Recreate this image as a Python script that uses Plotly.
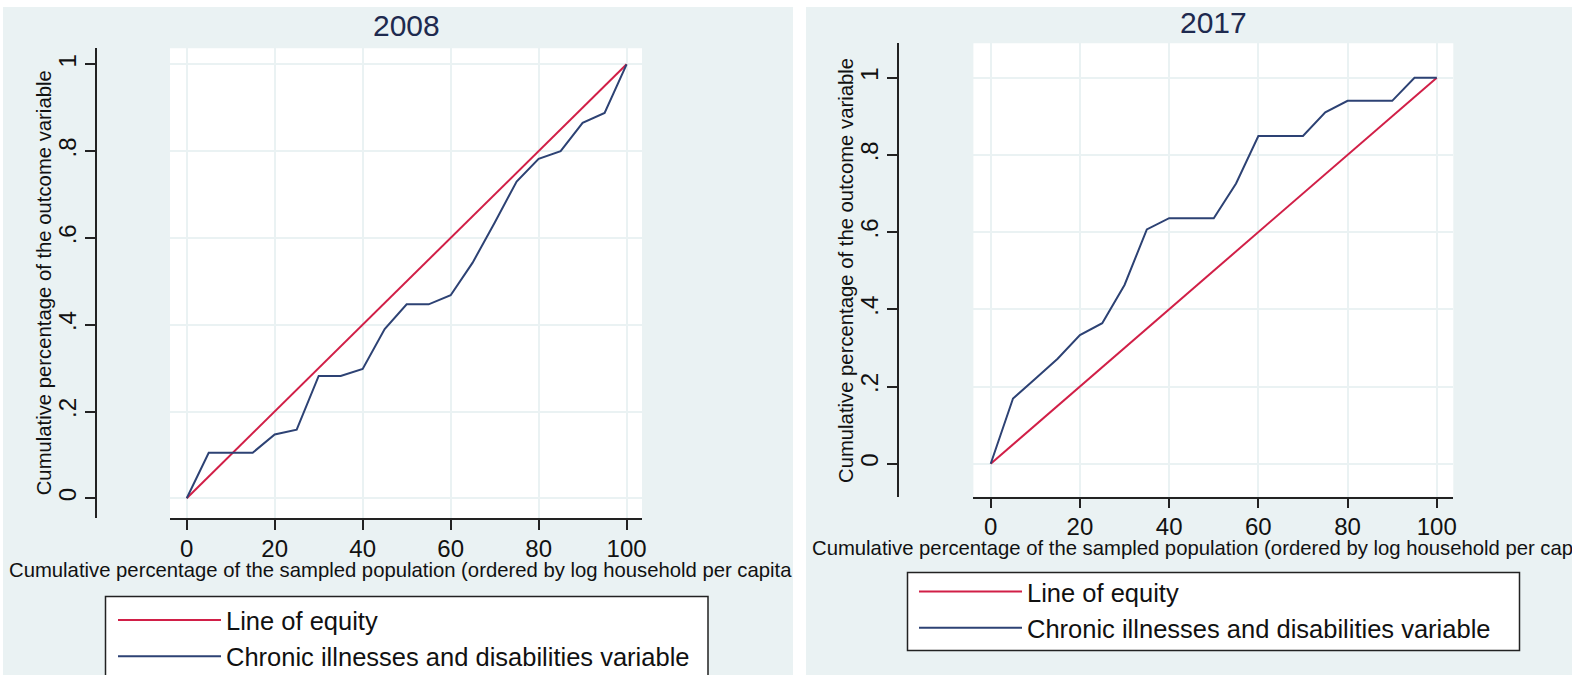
import plotly.graph_objects as go

# Concentration-curve data, cumulative population share in steps of 5 %
pop_share = [0, 5, 10, 15, 20, 25, 30, 35, 40, 45, 50,
             55, 60, 65, 70, 75, 80, 85, 90, 95, 100]
chronic_2008 = [0, 0.105, 0.105, 0.105, 0.147, 0.158, 0.282, 0.282, 0.298, 0.390, 0.447,
                0.447, 0.468, 0.543, 0.635, 0.730, 0.782, 0.800, 0.865, 0.888, 1.0]
chronic_2017 = [0, 0.169, 0.220, 0.272, 0.333, 0.364, 0.463, 0.607, 0.636, 0.636, 0.636,
                0.726, 0.849, 0.849, 0.849, 0.910, 0.940, 0.940, 0.940, 1.0, 1.0]
equity_x = [0, 100]
equity_y = [0, 1]

x_ticks = [0, 20, 40, 60, 80, 100]
y_ticks = [0, 0.2, 0.4, 0.6, 0.8, 1]
y_tick_text = ["0", ".2", ".4", ".6", ".8", "1"]

W, H = 1572, 675
RED = "#d11f47"
NAVY = "#2d4274"
BG = "#eaf2f3"
FONT = "Liberation Sans, Arial, sans-serif"
X_TITLE = "Cumulative percentage of the sampled population (ordered by log household per capita"
Y_TITLE = "Cumulative percentage of the outcome variable"


def px(v):
    return v / W


def py(v):
    return 1 - v / H


fig = go.Figure()

panels = [
    dict(year="2008", y=chronic_2008, xa="x", ya="y", legend="legend"),
    dict(year="2017", y=chronic_2017, xa="x2", ya="y2", legend="legend2"),
]
for p in panels:
    fig.add_trace(go.Scatter(x=equity_x, y=equity_y, mode="lines", name="Line of equity",
                             line=dict(color=RED, width=2), xaxis=p["xa"], yaxis=p["ya"],
                             legend=p["legend"], hoverinfo="skip"))
    fig.add_trace(go.Scatter(x=pop_share, y=p["y"], mode="lines",
                             name="Chronic illnesses and disabilities variable",
                             line=dict(color=NAVY, width=2), xaxis=p["xa"], yaxis=p["ya"],
                             legend=p["legend"]))

common_x = dict(tickvals=x_ticks, showgrid=True, gridcolor=BG, gridwidth=2,
                showline=True, linecolor="#222", linewidth=1.5,
                ticks="outside", ticklen=10, tickwidth=1.5, tickcolor="#222",
                tickfont=dict(size=24, color="#111", family=FONT), ticklabelstandoff=-2,
                zeroline=False, fixedrange=True)
common_y = dict(tickvals=y_ticks, ticktext=y_tick_text, tickangle=-90,
                showgrid=True, gridcolor=BG, gridwidth=2,
                showline=True, linecolor="#222", linewidth=1.5,
                ticks="outside", ticklen=10, tickwidth=1.5, tickcolor="#222",
                tickfont=dict(size=24, color="#111", family=FONT),
                zeroline=False, fixedrange=True, anchor="free")

legend_style = dict(xanchor="left", yanchor="top", bgcolor="rgba(0,0,0,0)", borderwidth=0,
                    font=dict(size=25.5, family=FONT, color="#111"), itemwidth=103,
                    tracegroupgap=0)

fig.update_layout(
    width=W, height=H,
    margin=dict(l=0, r=0, t=0, b=0, autoexpand=False),
    paper_bgcolor="white", plot_bgcolor="white",
    font=dict(family=FONT, color="#111"),
    xaxis=dict(common_x, domain=[px(170), px(642)], range=[-3.8, 103.5], anchor="y"),
    yaxis=dict(common_y, domain=[py(518.3), py(48.3)], range=[-0.0461, 1.0369],
               position=px(96)),
    xaxis2=dict(common_x, domain=[px(973.4), px(1453.3)], range=[-3.88, 103.7], anchor="y2"),
    yaxis2=dict(common_y, domain=[py(496.7), py(43.3)], range=[-0.0855, 1.0891],
                position=px(898)),
    legend=dict(legend_style, x=px(113), y=py(597)),
    legend2=dict(legend_style, x=px(914), y=py(568.5)),
    showlegend=True,
)

# Light panel backgrounds, white plot regions, and the framed legend boxes
shapes = [
    dict(type="rect", xref="paper", yref="paper", x0=px(3), x1=px(793), y0=0, y1=py(7),
         fillcolor=BG, line=dict(width=0), layer="below"),
    dict(type="rect", xref="paper", yref="paper", x0=px(806), x1=1, y0=0, y1=py(7),
         fillcolor=BG, line=dict(width=0), layer="below"),
    dict(type="rect", xref="x domain", yref="y domain", x0=0, x1=1, y0=0, y1=1,
         fillcolor="white", line=dict(width=0), layer="below"),
    dict(type="rect", xref="x2 domain", yref="y2 domain", x0=0, x1=1, y0=0, y1=1,
         fillcolor="white", line=dict(width=0), layer="below"),
    dict(type="rect", xref="paper", yref="paper", x0=px(105.5), x1=px(708), y0=py(690), y1=py(596.5),
         fillcolor="white", line=dict(color="#222", width=1.5), layer="above"),
    dict(type="rect", xref="paper", yref="paper", x0=px(907.5), x1=px(1519.5), y0=py(650.5), y1=py(572.5),
         fillcolor="white", line=dict(color="#222", width=1.5), layer="above"),
]
fig.update_layout(shapes=shapes)

# Panel titles
for year, xc, yc in [("2008", (170 + 642) / 2, 26), ("2017", (973.4 + 1453.3) / 2, 23)]:
    fig.add_annotation(text=year, x=px(xc), y=py(yc), xref="paper", yref="paper",
                       xanchor="center", yanchor="middle", showarrow=False,
                       font=dict(size=30, color="#1e2a4f", family=FONT))

# Axis titles, placed as in the Stata graph regions
for xl, yl in [(7, 570), (810, 547.5)]:
    fig.add_annotation(text=X_TITLE, x=px(xl), y=py(yl), xref="paper", yref="paper",
                       xanchor="left", yanchor="middle", showarrow=False,
                       font=dict(size=20.3, color="#111", family=FONT))
for xl, yl in [(44, 283.3), (846, 270)]:
    fig.add_annotation(text=Y_TITLE, x=px(xl), y=py(yl), xref="paper", yref="paper",
                       xanchor="center", yanchor="middle", textangle=-90, showarrow=False,
                       font=dict(size=20.3, color="#111", family=FONT))

fig.write_html("out.html")
